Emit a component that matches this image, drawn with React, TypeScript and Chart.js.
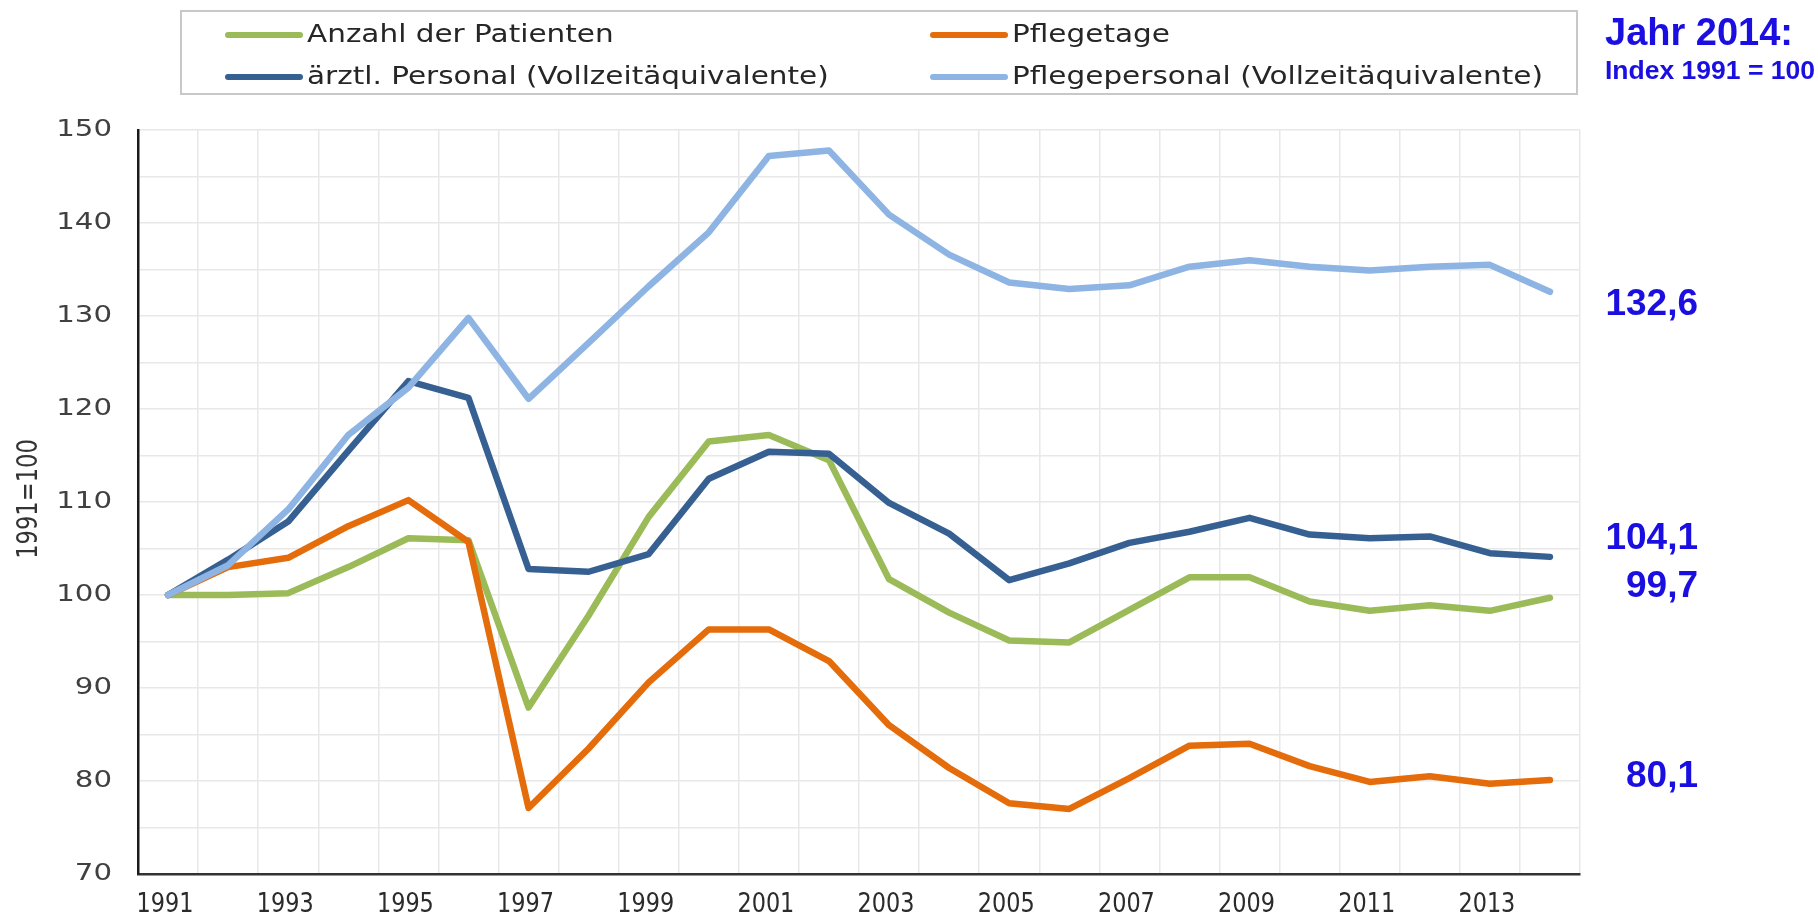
import React, { useEffect, useRef } from "react";
import { Chart, registerables } from "chart.js";

Chart.register(...registerables);

// ---------- data ----------
const years = [
  "1991", "1992", "1993", "1994", "1995", "1996", "1997", "1998", "1999", "2000",
  "2001", "2002", "2003", "2004", "2005", "2006", "2007", "2008", "2009", "2010",
  "2011", "2012", "2013", "2014",
];
const anzahlPatienten = [
  100, 100.0, 100.2, 103.0, 106.1, 105.9, 87.9, 97.8, 108.4, 116.5,
  117.2, 114.5, 101.7, 98.1, 95.1, 94.9, 98.4, 101.9, 101.9, 99.3,
  98.3, 98.9, 98.3, 99.7,
];
const pflegetage = [
  100, 103.0, 104.0, 107.4, 110.2, 105.7, 77.1, 83.5, 90.6, 96.3,
  96.3, 92.9, 86.0, 81.4, 77.6, 77.0, 80.3, 83.8, 84.0, 81.6,
  79.9, 80.5, 79.7, 80.1,
];
const aerztlPersonal = [
  100, 103.8, 107.9, 115.5, 123.0, 121.2, 102.8, 102.5, 104.4, 112.5,
  115.4, 115.2, 109.9, 106.6, 101.6, 103.4, 105.6, 106.8, 108.3, 106.5,
  106.1, 106.3, 104.5, 104.1,
];
const pflegepersonal = [
  100, 103.2, 109.2, 117.2, 122.3, 129.8, 121.1, 127.1, 133.2, 139.0,
  147.2, 147.8, 140.9, 136.6, 133.6, 132.9, 133.3, 135.3, 136.0, 135.3,
  134.9, 135.3, 135.5, 132.6,
];
const seriesLabels = [
  "Anzahl der Patienten",
  "Pflegetage",
  "ärztl. Personal (Vollzeitäquivalente)",
  "Pflegepersonal (Vollzeitäquivalente)",
];
const seriesColors = ["#9bbb59", "#e46c0a", "#376092", "#8db4e2"];
const yLabelValues = [70, 80, 90, 100, 110, 120, 130, 140, 150];
const yAxisTitle = "1991=100";
const noteTitle = "Jahr 2014:";
const noteSubtitle = "Index 1991 = 100";
// where (in axis units) each series' 2014 value label sits, same order as series
const noteAnchors = [100.9, 80.4, 106.0, 131.2];

// ---------- styling ----------
const FONT = '"DejaVu Sans", Verdana, sans-serif';
const NOTE_FONT = '"Liberation Sans", Arial, sans-serif';
const NOTE_COLOR = "#1a0fe0";

function drawScaledText(
  ctx: CanvasRenderingContext2D,
  text: string,
  x: number,
  y: number,
  font: string,
  sx: number,
  align: CanvasTextAlign,
  color: string
) {
  ctx.save();
  ctx.translate(x, y);
  ctx.scale(sx, 1);
  ctx.font = font;
  ctx.fillStyle = color;
  ctx.textAlign = align;
  ctx.textBaseline = "middle";
  ctx.fillText(text, 0, 0);
  ctx.restore();
}

const decorPlugin = {
  id: "decor",
  afterDraw(chart: any) {
    const ctx: CanvasRenderingContext2D = chart.ctx;
    const yScale = chart.scales.y;
    const xScale = chart.scales.x;

    // legend box
    ctx.save();
    ctx.strokeStyle = "#c8c8c8";
    ctx.lineWidth = 2;
    ctx.strokeRect(181, 11, 1396, 83);
    ctx.restore();

    const colX = [228, 933];
    const rowY = [35, 77];
    chart.data.datasets.forEach((ds: any, i: number) => {
      const x = colX[i % 2];
      const y = rowY[Math.floor(i / 2)];
      ctx.save();
      ctx.strokeStyle = ds.borderColor;
      ctx.lineWidth = 6;
      ctx.lineCap = "round";
      ctx.beginPath();
      ctx.moveTo(x, y);
      ctx.lineTo(x + 72, y);
      ctx.stroke();
      ctx.restore();
      drawScaledText(ctx, ds.label, x + 79, y, `25px ${FONT}`, 1.18, "left", "#262626");
    });

    // y tick labels
    yLabelValues.forEach((v) => {
      const py = yScale.getPixelForValue(v);
      drawScaledText(ctx, String(v), 112, py, `22.5px ${FONT}`, 1.3, "right", "#404040");
    });

    // x tick labels (every other year)
    years.forEach((yr, idx) => {
      if (idx % 2 !== 0) return;
      const px = xScale.getPixelForValue(idx);
      drawScaledText(ctx, yr, px - 3, 905, `26px ${FONT}`, 0.86, "center", "#2b2b2b");
    });

    // y axis title (rotated)
    ctx.save();
    ctx.translate(29, 499);
    ctx.rotate(-Math.PI / 2);
    ctx.scale(0.78, 1);
    ctx.font = `29px ${FONT}`;
    ctx.fillStyle = "#333";
    ctx.textAlign = "center";
    ctx.textBaseline = "middle";
    ctx.fillText(yAxisTitle, 0, 0);
    ctx.restore();

    // notes on the right
    ctx.save();
    ctx.fillStyle = NOTE_COLOR;
    ctx.textBaseline = "middle";
    ctx.textAlign = "left";
    ctx.font = `bold 38px ${NOTE_FONT}`;
    ctx.fillText(noteTitle, 1605, 35);
    ctx.font = `bold 26.5px ${NOTE_FONT}`;
    ctx.fillText(noteSubtitle, 1605, 72);
    ctx.textAlign = "right";
    ctx.font = `bold 37px ${NOTE_FONT}`;
    chart.data.datasets.forEach((ds: any, i: number) => {
      const last = ds.data[ds.data.length - 1] as number;
      const txt = last.toFixed(1).replace(".", ",");
      ctx.fillText(txt, 1698, yScale.getPixelForValue(noteAnchors[i]));
    });
    ctx.restore();
  },
};

export default function App() {
  const canvasRef = useRef<HTMLCanvasElement | null>(null);

  useEffect(() => {
    if (!canvasRef.current) return;
    const seriesData = [anzahlPatienten, pflegetage, aerztlPersonal, pflegepersonal];
    const chart = new Chart(canvasRef.current, {
      type: "line",
      data: {
        labels: years,
        datasets: seriesData.map((d, i) => ({
          label: seriesLabels[i],
          data: d,
          borderColor: seriesColors[i],
          backgroundColor: seriesColors[i],
          borderWidth: 6.5,
          pointRadius: 0,
          pointHoverRadius: 0,
          tension: 0,
          fill: false,
          borderJoinStyle: "round" as const,
          borderCapStyle: "round" as const,
          order: 4 - i,
        })),
      },
      options: {
        responsive: false,
        animation: false,
        events: [],
        layout: { padding: { top: 130, right: 238, bottom: 0, left: 0 } },
        plugins: {
          legend: { display: false },
          tooltip: { enabled: false },
          title: { display: false },
        },
        scales: {
          x: {
            type: "category",
            offset: true,
            grid: { offset: true, color: "#e8e8e8", lineWidth: 1.5, drawTicks: false },
            border: { display: true, color: "#333333", width: 2.5 },
            ticks: { display: false },
            afterFit: (s: any) => {
              s.height = 42;
            },
          },
          y: {
            type: "linear",
            min: 70,
            max: 150,
            ticks: { display: false, stepSize: 5 },
            grid: { color: "#e8e8e8", lineWidth: 1.5, drawTicks: false },
            border: { display: true, color: "#1a1a1a", width: 2.5 },
            afterFit: (s: any) => {
              s.width = 138;
            },
          },
        },
      },
      plugins: [decorPlugin],
    });
    return () => chart.destroy();
  }, []);

  return (
    <div style={{ position: "absolute", left: 0, top: 0, width: 1818, height: 916, background: "#fff" }}>
      <canvas ref={canvasRef} width={1818} height={916} style={{ display: "block" }} />
    </div>
  );
}
